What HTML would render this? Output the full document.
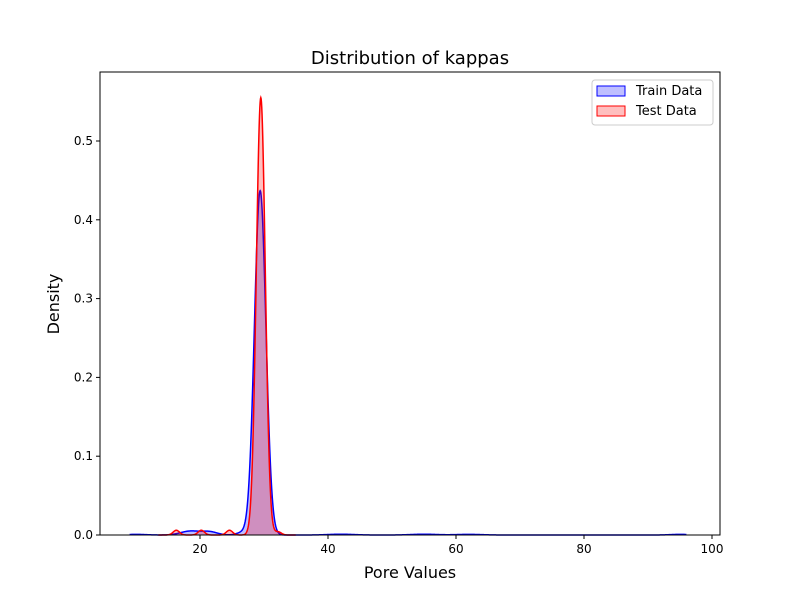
<!DOCTYPE html>
<html><head><meta charset="utf-8"><style>
body{margin:0;background:#fff;font-family:"Liberation Sans","DejaVu Sans",sans-serif}
</style></head><body>
<svg id="c" width="800" height="600" xmlns="http://www.w3.org/2000/svg" font-family="DejaVu Sans, Liberation Sans, sans-serif">
<rect width="800" height="600" fill="#fff"/>
</svg>
<script>
const xTicks=[20,40,60,80,100];
const yTicks=[0.0,0.1,0.2,0.3,0.4,0.5];
const trainCenters=[29.4,18.5,21.5,26.5,42,55,62,10,95];
const trainHeights=[0.437,0.005,0.004,0.003,0.001,0.001,0.0008,0.0008,0.0008];
const trainWidths=[0.9,1.5,1.2,0.8,2,2,2,1.5,1.5];
const testCenters=[29.5,16.3,20.2,24.6,32.2];
const testHeights=[0.555,0.006,0.006,0.006,0.004];
const testWidths=[0.7,0.5,0.5,0.5,0.5];
const L=100,R=720,T=72,B=535;
const X=v=>72+v*6.4, Y=v=>535-v*788;
const svg=document.getElementById('c');const NS='http://www.w3.org/2000/svg';
function mk(t,a,p){const e=document.createElementNS(NS,t);for(const k in a)e.setAttribute(k,a[k]);(p||svg).appendChild(e);return e;}
function dens(x,c,h,w){let s=0;for(let i=0;i<c.length;i++)s+=h[i]*Math.exp(-0.5*((x-c[i])/w[i])**2);return s;}
function series(c,h,w,x0,x1,col,name){
  let pts=[];for(let x=x0;x<=x1;x+=0.05)pts.push([X(x),Y(dens(x,c,h,w))]);
  const d=pts.map((p,i)=>(i?'L':'M')+p[0].toFixed(2)+' '+p[1].toFixed(2)).join(' ');
  const f=mk('path',{d:d+` L${X(x1)} ${Y(0)} L${X(x0)} ${Y(0)} Z`,fill:col,'fill-opacity':0.25,stroke:'none'});
  
  
  const l=mk('path',{d:d,fill:'none',stroke:col,'stroke-width':1.5});
  
  
}
series(trainCenters,trainHeights,trainWidths,9,96,'#0000ff','train');
series(testCenters,testHeights,testWidths,13.5,35,'#ff0000','test');
const ax=mk('rect',{x:L,y:T,width:R-L,height:B-T,fill:'none',stroke:'#000','stroke-width':1});

xTicks.forEach(v=>{const g=mk('g',{});
 mk('line',{x1:X(v),x2:X(v),y1:B,y2:B+4,stroke:'#000'},g);
 const t=mk('text',{x:X(v),y:B+18,'text-anchor':'middle','font-size':12},g);t.textContent=v;});
yTicks.forEach(v=>{const g=mk('g',{});
 mk('line',{x1:L-4,x2:L,y1:Y(v),y2:Y(v),stroke:'#000'},g);
 const t=mk('text',{x:L-7,y:Y(v)+4,'text-anchor':'end','font-size':12},g);t.textContent=v.toFixed(1);});
let t=mk('text',{x:410,y:64,'text-anchor':'middle','font-size':18});t.textContent='Distribution of kappas';

t=mk('text',{x:410,y:578,'text-anchor':'middle','font-size':16});t.textContent='Pore Values';

t=mk('text',{x:59,y:304,'text-anchor':'middle','font-size':16,transform:'rotate(-90 59 304)'});t.textContent='Density';

const lg=mk('g',{});
mk('rect',{x:592,y:80,width:121,height:45,rx:3,fill:'#fff',stroke:'#ccc'},lg);
[['Train Data','#0000ff',91],['Test Data','#ff0000',111]].forEach(([n,c,y])=>{
 const g=mk('g',{},lg);
 mk('rect',{x:597,y:y-5,width:28,height:10,fill:c,'fill-opacity':0.25,stroke:c},g);
 const tt=mk('text',{x:636,y:y+4,'font-size':13},g);tt.textContent=n;});
</script>
</body></html>
